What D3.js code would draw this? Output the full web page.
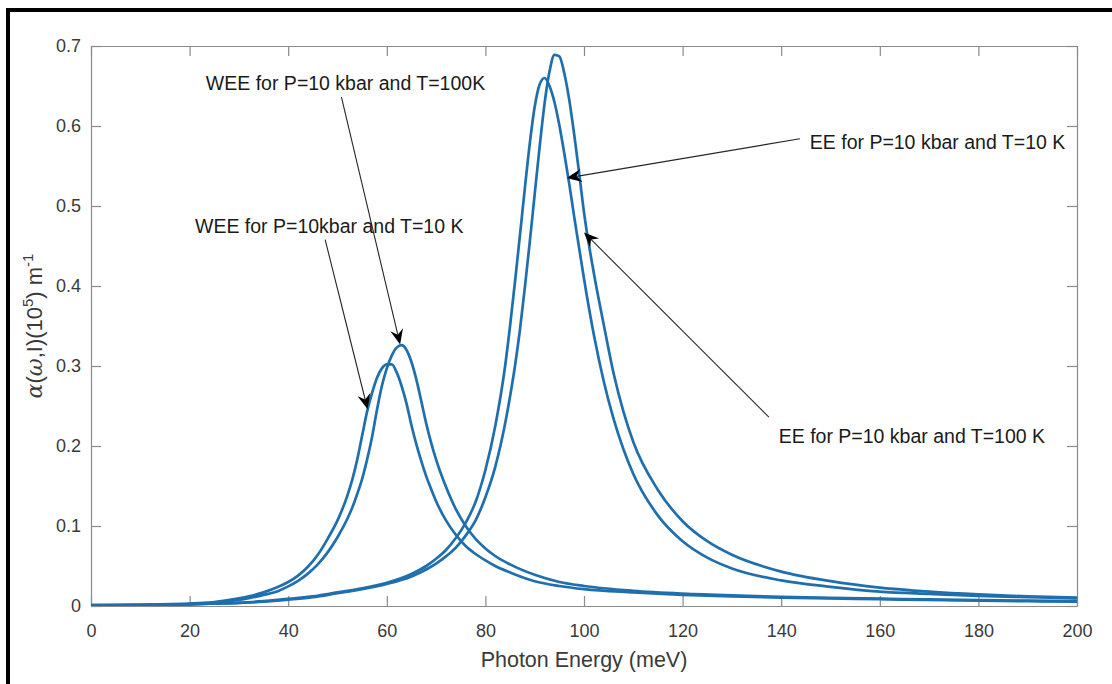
<!DOCTYPE html>
<html>
<head>
<meta charset="utf-8">
<script src="https://cdn.jsdelivr.net/npm/d3@7"></script>
<style>
  html, body { margin: 0; padding: 0; background: #fff; }
  svg { display: block; }
  text { font-family: "Liberation Sans", Arial, Helvetica, sans-serif; }
</style>
</head>
<body>
<svg id="chart" width="1112" height="684"></svg>
<script>
// ---------------- DATA ----------------
const xTicks = [0, 20, 40, 60, 80, 100, 120, 140, 160, 180, 200];
const yTicks = [0, 0.1, 0.2, 0.3, 0.4, 0.5, 0.6, 0.7];
const xTickLabels = ["0","20","40","60","80","100","120","140","160","180","200"];
const yTickLabels = ["0","0.1","0.2","0.3","0.4","0.5","0.6","0.7"];

// WEE curves (sampled energies, meV)
const weeEnergy = [0,10,20,25,30,32,35,38,40,42,44,46,48,50,52,53,54,55,56,57,58,59,60,61,62,63,64,65,66,67,68,69,70,72,74,76,78,80,82,85,90,95,100,110,120,130,140,150,160,170,180,190,200];
// WEE, P=10 kbar, T=10 K
const weeT10 = [0.001,0.0015,0.003,0.005,0.0095,0.012,0.017,0.024,0.030,0.038,0.049,0.064,0.084,0.107,0.138,0.158,0.183,0.213,0.243,0.266,0.285,0.297,0.302,0.302,0.292,0.275,0.253,0.226,0.202,0.181,0.162,0.146,0.131,0.107,0.089,0.075,0.065,0.057,0.050,0.042,0.031,0.025,0.021,0.017,0.014,0.012,0.0105,0.0095,0.0085,0.0075,0.0068,0.006,0.0055];
// WEE, P=10 kbar, T=100 K
const weeT100 = [0.001,0.0013,0.0025,0.0043,0.0075,0.0097,0.0138,0.0188,0.0245,0.0315,0.0405,0.052,0.067,0.086,0.109,0.123,0.140,0.159,0.183,0.211,0.245,0.275,0.297,0.313,0.323,0.326,0.320,0.305,0.283,0.256,0.228,0.204,0.183,0.149,0.121,0.100,0.084,0.072,0.0625,0.052,0.039,0.030,0.025,0.019,0.0155,0.0132,0.0115,0.0102,0.0092,0.0082,0.0074,0.0067,0.006];

// EE curves
const eeEnergy = [0,10,20,25,30,35,40,45,50,55,60,65,68,70,72,74,76,78,80,82,84,85,86,87,88,89,90,91,92,93,94,95,96,97,98,99,100,102,104,106,108,110,115,120,125,130,140,150,160,170,180,190,200];
// EE, P=10 kbar, T=10 K
const eeT10 = [0.0005,0.001,0.002,0.003,0.004,0.006,0.009,0.012,0.017,0.022,0.029,0.040,0.050,0.059,0.070,0.085,0.104,0.130,0.170,0.225,0.300,0.350,0.405,0.463,0.522,0.578,0.624,0.652,0.660,0.650,0.630,0.601,0.566,0.528,0.487,0.448,0.409,0.339,0.281,0.234,0.196,0.165,0.113,0.081,0.0605,0.047,0.032,0.024,0.018,0.015,0.0125,0.011,0.0095];
// EE, P=10 kbar, T=100 K
const eeT100 = [0.0005,0.001,0.002,0.003,0.004,0.0055,0.008,0.011,0.016,0.021,0.0276,0.037,0.0457,0.053,0.062,0.073,0.088,0.107,0.136,0.174,0.228,0.262,0.300,0.345,0.398,0.455,0.515,0.574,0.628,0.668,0.689,0.687,0.666,0.633,0.590,0.542,0.492,0.416,0.352,0.291,0.243,0.205,0.145,0.106,0.081,0.064,0.043,0.031,0.023,0.018,0.0145,0.012,0.0105];

const seriesList = [
  { xs: weeEnergy, ys: weeT10 },
  { xs: weeEnergy, ys: weeT100 },
  { xs: eeEnergy, ys: eeT10 },
  { xs: eeEnergy, ys: eeT100 }
];

// annotations: text, text anchor position (data units), arrow start & tip (data units)
const annotations = [
  { text: "WEE for P=10 kbar and T=100K", tx: 23.3, ty: 0.645, from: [50.8, 0.636], to: [62.7, 0.327] },
  { text: "WEE for P=10kbar and T=10 K", tx: 21.1, ty: 0.466, from: [47.5, 0.458], to: [56.1, 0.246] },
  { text: "EE for P=10 kbar and T=10 K", tx: 145.8, ty: 0.571, from: [143.8, 0.584], to: [96.5, 0.535] },
  { text: "EE for P=10 kbar and T=100 K", tx: 139.5, ty: 0.204, from: [137.5, 0.236], to: [100.0, 0.467] }
];

// ---------------- CHART ----------------
const svg = d3.select("#chart");
const W = 1112, H = 684;
const mLeft = 91, mRight = 1077, mTop = 46, mBottom = 606;

const x = d3.scaleLinear().domain([0, 200]).range([mLeft, mRight]);
const y = d3.scaleLinear().domain([0, 0.7]).range([mBottom, mTop]);

svg.append("rect").attr("width", W).attr("height", H).attr("fill", "#fff");

// outer black frame (top & left visible)
svg.append("rect").attr("x", 6).attr("y", 8).attr("width", W).attr("height", 4).attr("fill", "#000");
svg.append("rect").attr("x", 6).attr("y", 8).attr("width", 4).attr("height", H).attr("fill", "#000");

const axisColor = "#8a8a8a";
const tickFont = "18px";

const gx = svg.append("g").attr("transform", `translate(0,${mBottom})`)
  .call(d3.axisBottom(x).tickValues(xTicks).tickFormat((d, i) => xTickLabels[i])
    .tickSizeInner(-10).tickSizeOuter(0).tickPadding(18));
const gxt = svg.append("g").attr("transform", `translate(0,${mTop})`)
  .call(d3.axisTop(x).tickValues(xTicks).tickFormat("").tickSizeInner(-10).tickSizeOuter(0));
const gy = svg.append("g").attr("transform", `translate(${mLeft},0)`)
  .call(d3.axisLeft(y).tickValues(yTicks).tickFormat((d, i) => yTickLabels[i])
    .tickSizeInner(-10).tickSizeOuter(0).tickPadding(10));
const gyr = svg.append("g").attr("transform", `translate(${mRight},0)`)
  .call(d3.axisRight(y).tickValues(yTicks).tickFormat("").tickSizeInner(-10).tickSizeOuter(0));

[gx, gxt, gy, gyr].forEach(g => {
  g.select(".domain").attr("stroke", axisColor).attr("stroke-width", 1.2);
  g.selectAll(".tick line").attr("stroke", axisColor).attr("stroke-width", 1.2);
  g.selectAll(".tick text").attr("fill", "#3a3a3a").style("font-size", tickFont)
    .style("font-family", "'Liberation Sans', Arial, sans-serif");
});

const line = d3.line()
  .x(d => x(d[0]))
  .y(d => y(d[1]))
  .curve(d3.curveMonotoneX);

const plot = svg.append("g");
plot.append("clipPath").attr("id", "clip").append("rect")
  .attr("x", mLeft).attr("y", mTop - 4).attr("width", mRight - mLeft).attr("height", mBottom - mTop + 4);

seriesList.forEach(s => {
  const pts = s.xs.map((v, i) => [v, s.ys[i]]);
  plot.append("path")
    .attr("d", line(pts))
    .attr("fill", "none")
    .attr("stroke", "#1f6fae")
    .attr("stroke-width", 2.7)
    .attr("stroke-linejoin", "round")
    .attr("clip-path", "url(#clip)");
});

const ann = svg.append("g");
annotations.forEach(a => {
  ann.append("text")
    .attr("x", x(a.tx)).attr("y", y(a.ty))
    .attr("fill", "#1a1a1a")
    .style("font-size", "19.5px")
    .text(a.text);

  const x1 = x(a.from[0]), y1 = y(a.from[1]);
  const x2 = x(a.to[0]), y2 = y(a.to[1]);
  const ang = Math.atan2(y2 - y1, x2 - x1);
  const L = 15, Wd = 6.5, notch = 10;
  const ux = Math.cos(ang), uy = Math.sin(ang);
  const px = -uy, py = ux;
  const bx = x2 - ux * L, by = y2 - uy * L;
  const nx = x2 - ux * notch, ny = y2 - uy * notch;
  ann.append("line")
    .attr("x1", x1).attr("y1", y1).attr("x2", nx).attr("y2", ny)
    .attr("stroke", "#262626").attr("stroke-width", 1.1);
  ann.append("path")
    .attr("d", `M${x2},${y2} L${bx + px * Wd},${by + py * Wd} L${nx},${ny} L${bx - px * Wd},${by - py * Wd} Z`)
    .attr("fill", "#000");
});

svg.append("text")
  .attr("x", (mLeft + mRight) / 2).attr("y", 667)
  .attr("text-anchor", "middle")
  .attr("fill", "#3a3a3a")
  .style("font-size", "21.5px")
  .text("Photon Energy (meV)");

const yt = svg.append("text")
  .attr("transform", `translate(42,${(mTop + mBottom) / 2}) rotate(-90)`)
  .attr("text-anchor", "middle")
  .attr("fill", "#3a3a3a")
  .style("font-size", "22px");
yt.append("tspan").style("font-family", "'DejaVu Serif', 'Liberation Serif', serif").style("font-style", "italic").text("α");
yt.append("tspan").text("(");
yt.append("tspan").style("font-family", "'DejaVu Serif', 'Liberation Serif', serif").style("font-style", "italic").text("ω");
yt.append("tspan").text(",I)(10");
yt.append("tspan").attr("dy", -9).style("font-size", "15px").text("5");
yt.append("tspan").attr("dy", 9).text(") m");
yt.append("tspan").attr("dy", -9).style("font-size", "15px").text("-1");
</script>
</body>
</html>
